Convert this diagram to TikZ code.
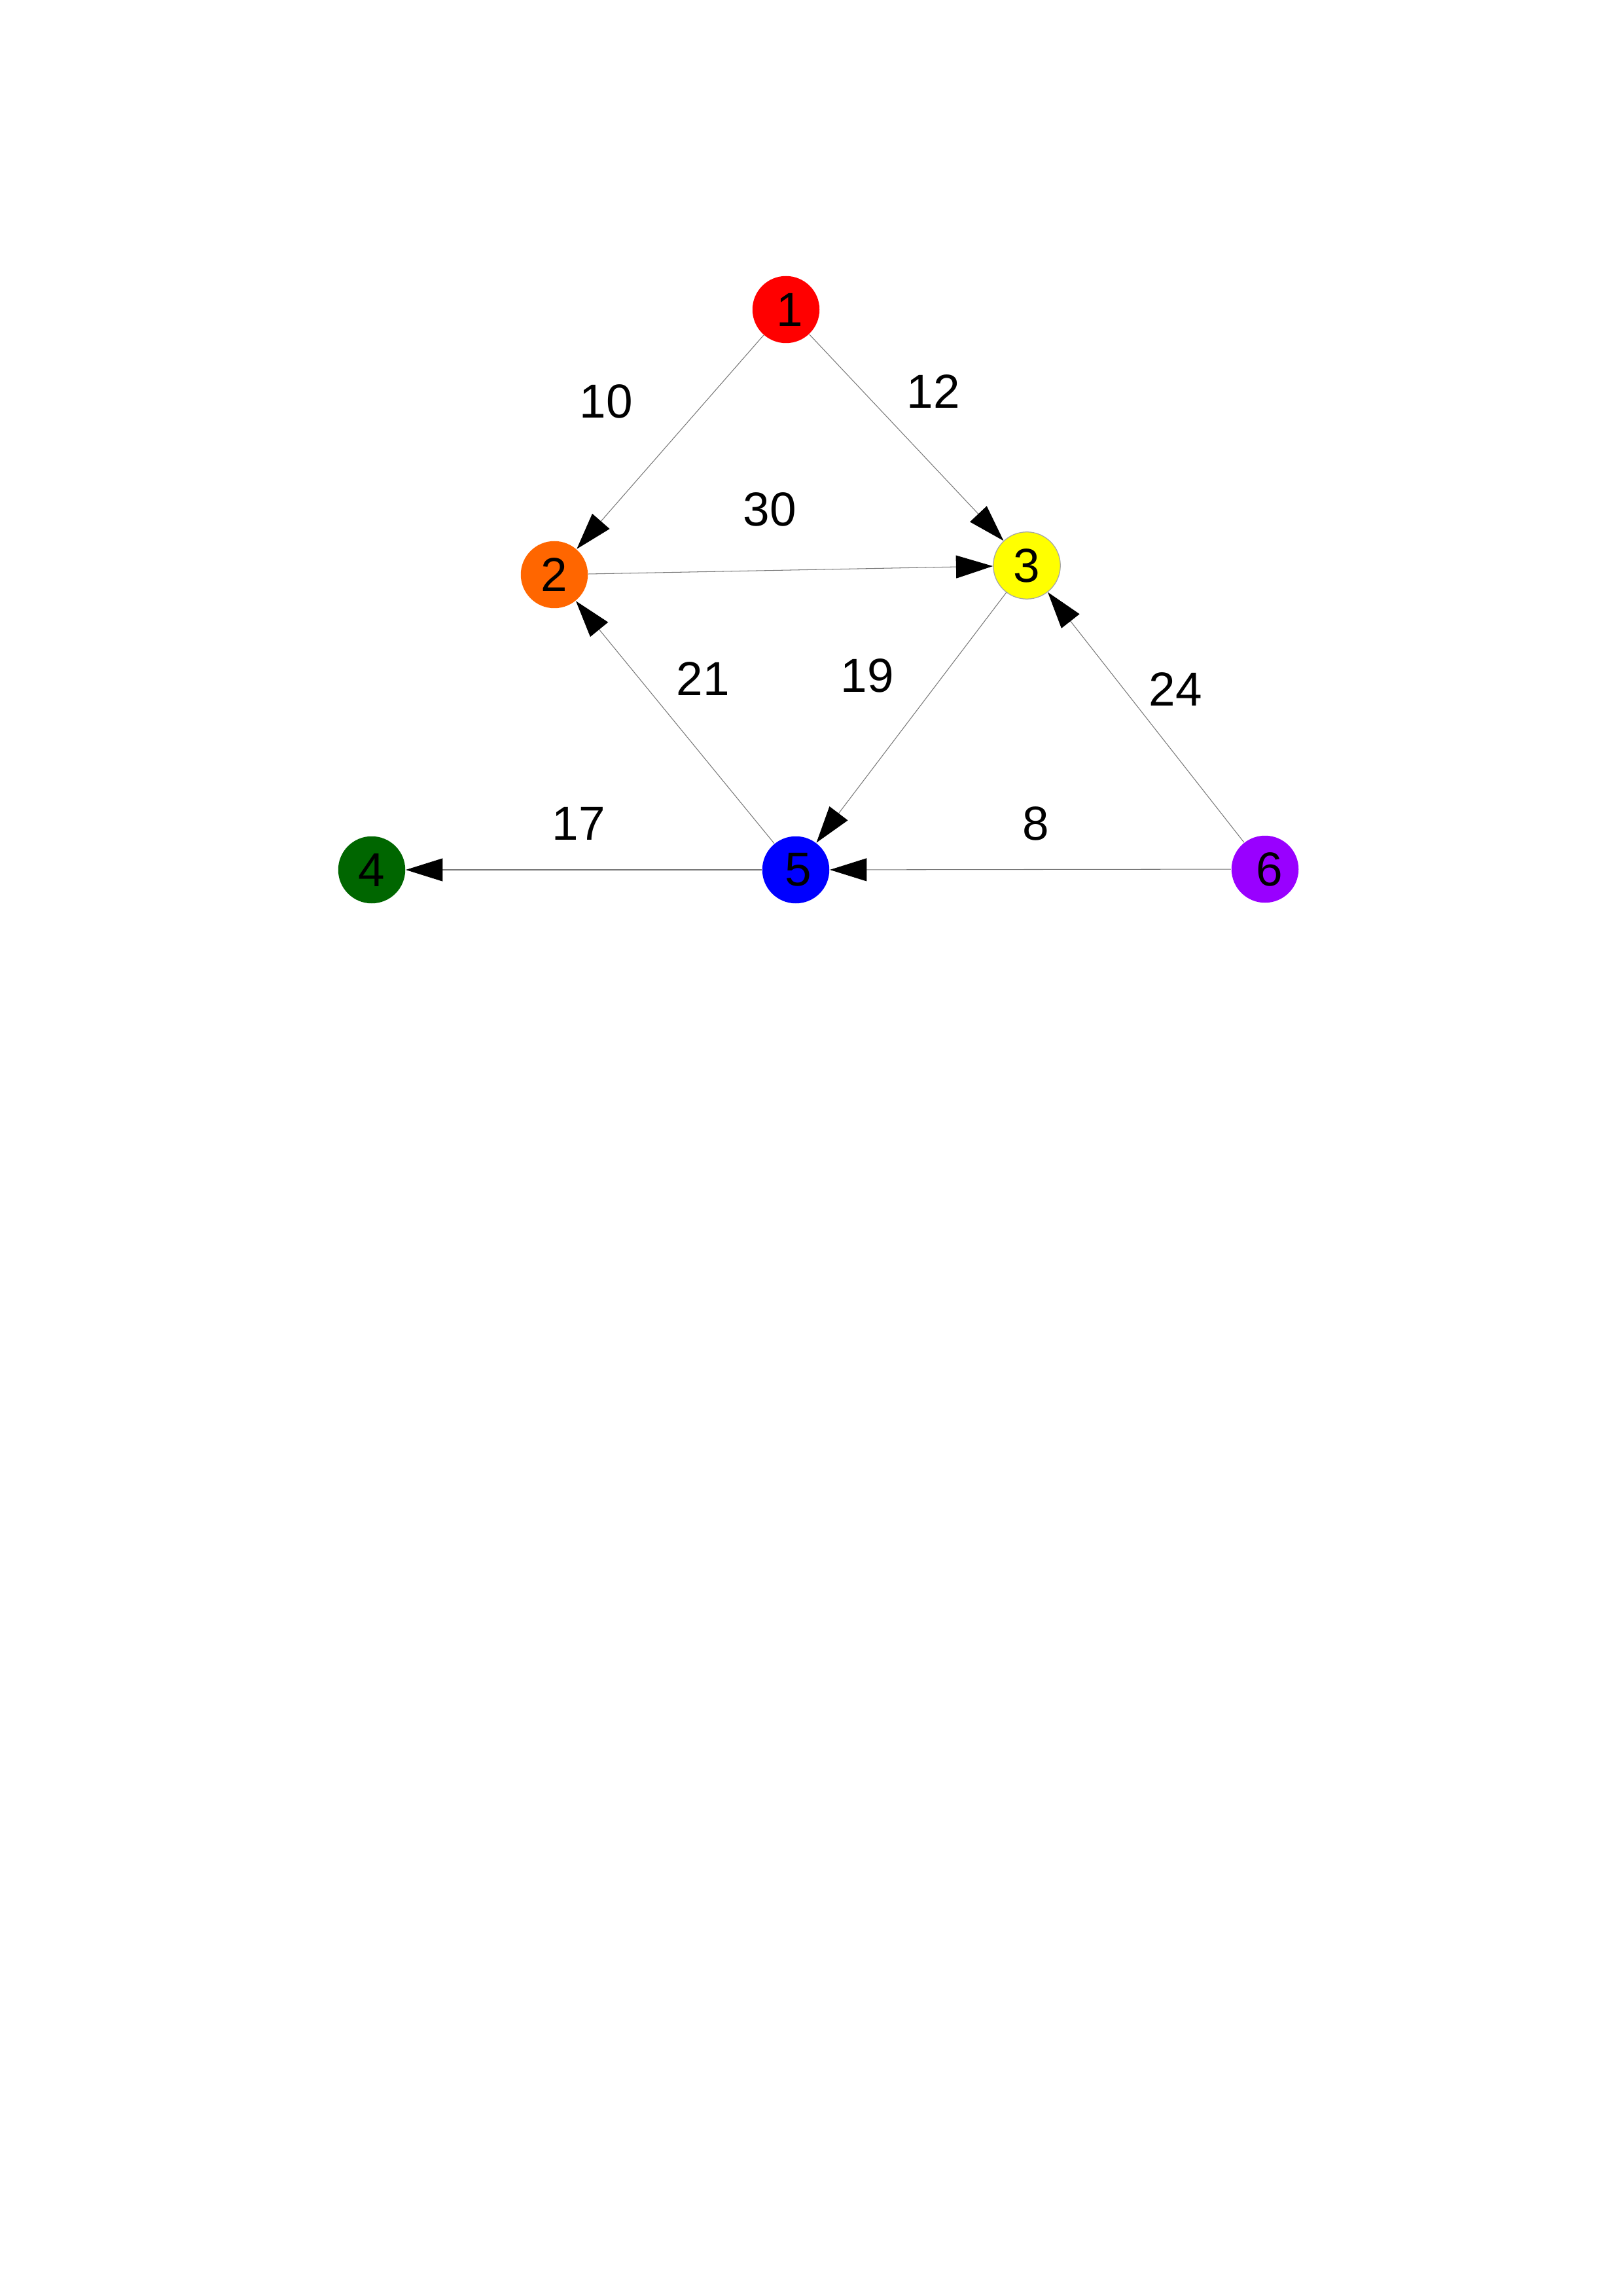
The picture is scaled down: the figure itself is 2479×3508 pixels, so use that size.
\documentclass[tikz,border=0pt]{standalone}
\usepackage{fontspec}
\setmainfont{Liberation Sans}
\usetikzlibrary{arrows.meta}
\definecolor{nred}{HTML}{FF0000}
\definecolor{norange}{HTML}{FF6600}
\definecolor{nyellow}{HTML}{FFFF00}
\definecolor{ngreen}{HTML}{006600}
\definecolor{nblue}{HTML}{0000FF}
\definecolor{npurple}{HTML}{9900FF}
\definecolor{edgegray}{HTML}{777777}
\begin{document}
\begin{tikzpicture}[x=0.24pt,y=-0.24pt,
  vertex/.style={circle,minimum size=24.6pt,inner sep=0pt,font=\fontsize{17.5}{20}\selectfont,text=black},
  wlabel/.style={inner sep=0pt,font=\fontsize{17.5}{20}\selectfont},
  link/.style={draw=edgegray,line width=0.25pt,-{Triangle[length=13.5pt,width=8.4pt,fill=black,color=black]}}]
\useasboundingbox (0,0) rectangle (2479,3508);
\node[vertex,fill=nred] (n1) at (1201,473) {\hspace{3pt}1};
\node[vertex,fill=norange] (n2) at (847,878) {2};
\node[vertex,fill=nyellow,draw=gray!70,line width=0.3pt] (n3) at (1569,864) {3};
\node[vertex,fill=ngreen] (n4) at (568,1329) {4};
\node[vertex,fill=nblue] (n5) at (1216,1329) {\hspace{2pt}5};
\node[vertex,fill=npurple] (n6) at (1933,1328) {\hspace{3pt}6};
\draw[link] (n1) -- (n2);
\draw[link] (n1) -- (n3);
\draw[link] (n2) -- (n3);
\draw[link] (n3) -- (n5);
\draw[link] (n5) -- (n2);
\draw[link] (n6) -- (n3);
\draw[link] (n6) -- (n5);
\draw[link] (n5) -- (n4);
\node[wlabel] (l10) at (926,613) {10};
\node[wlabel] (l12) at (1426,598) {12};
\node[wlabel] (l30) at (1176,778) {30};
\node[wlabel] (l21) at (1074,1037) {21};
\node[wlabel] (l19) at (1325,1032) {19};
\node[wlabel] (l24) at (1796,1053) {24};
\node[wlabel] (l17) at (884,1258) {17};
\node[wlabel] (l8) at (1583,1258) {8};
\end{tikzpicture}
\end{document}
